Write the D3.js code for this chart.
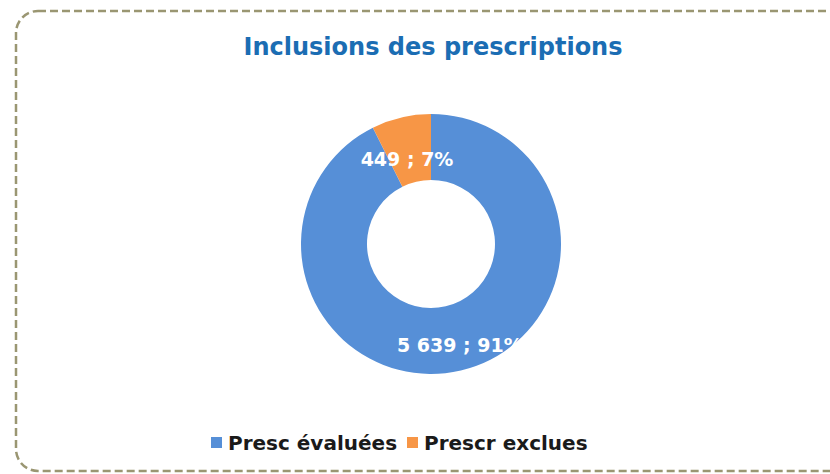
<!DOCTYPE html>
<html>
<head>
<meta charset="utf-8">
<script src="https://cdn.jsdelivr.net/npm/d3@7"></script>
<style>
  body { margin: 0; background: #fff; }
  svg { display: block; }
</style>
</head>
<body>
<div id="chart"></div>
<script>
// chart data
var categories = ['Presc évaluées', 'Prescr exclues']
var values = [5639, 449]
var labels = ['5 639 ; 91%', '449 ; 7%']
var colors = ['#568fd7', '#f79646']
var title = 'Inclusions des prescriptions'

var w = 830
var h = 474
var cx = 431, cy = 244
var outerR = 130, innerR = 64
var font = '"DejaVu Sans", Verdana, sans-serif'

var svg = d3.select('#chart')
  .append('svg')
  .attr('width', w)
  .attr('height', h)

// dashed frame
svg.append('rect')
  .attr('x', 16)
  .attr('y', 11)
  .attr('width', 840)
  .attr('height', 460)
  .attr('rx', 22)
  .attr('fill', 'none')
  .attr('stroke', '#9a9672')
  .attr('stroke-width', 2.5)
  .attr('stroke-dasharray', '8,4')

svg.append('text')
  .attr('x', cx + 2)
  .attr('y', 55)
  .attr('text-anchor', 'middle')
  .style('font-family', font)
  .style('font-weight', 'bold')
  .style('font-size', '24px')
  .style('fill', '#1b6db3')
  .text(title)

var color = d3.scaleOrdinal().domain(categories).range(colors)

var pie = d3.pie()
  .sort(null)
  .value(function(d) { return d })

var arc = d3.arc()
  .outerRadius(outerR)
  .innerRadius(innerR)

var g = svg.append('g')
  .attr('transform', 'translate(' + cx + ',' + cy + ')')

var slices = g.selectAll('.arc')
  .data(pie(values))
  .enter().append('g')
  .attr('class', 'arc')

slices.append('path')
  .attr('d', arc)
  .attr('fill', function(d, i) { return color(categories[i]) })

// label radius for each slice, roughly where office put them
var labelR = [104, 87]
var labelDx = [5, -4]

slices.append('text')
  .attr('transform', function(d, i) {
    var c = d3.arc().outerRadius(labelR[i]).innerRadius(labelR[i]).centroid(d)
    return 'translate(' + (c[0] + labelDx[i]) + ',' + c[1] + ')'
  })
  .attr('text-anchor', 'middle')
  .attr('dy', '0.35em')
  .style('font-family', font)
  .style('font-weight', 'bold')
  .style('font-size', '19px')
  .style('fill', '#fff')
  .text(function(d, i) { return labels[i] })

// legend
var legend = svg.append('g')
  .attr('transform', 'translate(211,0)')

var lx = [0, 196]
categories.forEach(function(c, i) {
  legend.append('rect')
    .attr('x', lx[i])
    .attr('y', 437)
    .attr('width', 11)
    .attr('height', 11)
    .attr('fill', color(c))
  legend.append('text')
    .attr('x', lx[i] + 17)
    .attr('y', 450)
    .style('font-family', font)
    .style('font-weight', 'bold')
    .style('font-size', '20px')
    .style('fill', '#1a1a1a')
    .text(c)
})
</script>
</body>
</html>
